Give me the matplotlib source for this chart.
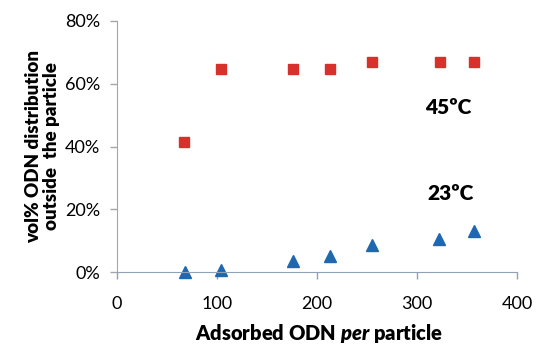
import matplotlib.pyplot as plt
from matplotlib.ticker import FuncFormatter

plt.rcParams['font.family'] = ['Lato', 'DejaVu Sans']
plt.rcParams['mathtext.fontset'] = 'custom'
plt.rcParams['mathtext.bfit'] = 'Lato:italic:heavy'

odn_45 = [67, 104, 176, 213, 255, 323, 357]
vol_45 = [41.5, 64.8, 64.8, 64.8, 67.0, 67.0, 67.0]

odn_23 = [68, 104, 176, 213, 255, 322, 357]
vol_23 = [0.0, 0.7, 3.6, 5.0, 8.6, 10.6, 13.0]

fig = plt.figure(figsize=(5.37, 3.44), dpi=100)
ax = fig.add_axes([0.218, 0.209, 0.745, 0.730])

ax.plot(odn_45, vol_45, linestyle='none', marker='s', markersize=7,
        color='#d7312b', clip_on=False)
ax.plot(odn_23, vol_23, linestyle='none', marker='^', markersize=8,
        color='#1f68b0', clip_on=False)

ax.set_xlim(0, 400)
ax.set_ylim(0, 80)
ax.set_xticks([0, 100, 200, 300, 400])
ax.set_yticks([0, 20, 40, 60, 80])
ax.yaxis.set_major_formatter(FuncFormatter(lambda v, p: '%d%%' % v))

for s in ['top', 'right']:
    ax.spines[s].set_visible(False)
ax.spines['left'].set_color('#a6a6a6')
ax.spines['bottom'].set_color('#8ea3b8')
ax.tick_params(axis='y', colors='#a6a6a6', length=5, width=1,
               labelcolor='black', labelsize=13, pad=7)
ax.tick_params(axis='x', colors='#8ea3b8', length=5, width=1,
               labelcolor='black', labelsize=13, pad=12)

ax.text(331, 52.5, '45ºC', fontsize=15, fontweight='heavy', ha='center', va='center')
ax.text(333, 25, '23ºC', fontsize=15, fontweight='heavy', ha='center', va='center')

ax.set_ylabel('vol% ODN distribution\noutside  the particle', fontsize=13.5,
              fontweight='heavy', linespacing=1.05, labelpad=4)
fig.text(0.595, 0.03, 'Adsorbed ODN $\\mathbfit{per}$ particle', fontsize=14.5,
         fontweight='heavy', ha='center', va='center')

fig.savefig('out.png', dpi=100)
